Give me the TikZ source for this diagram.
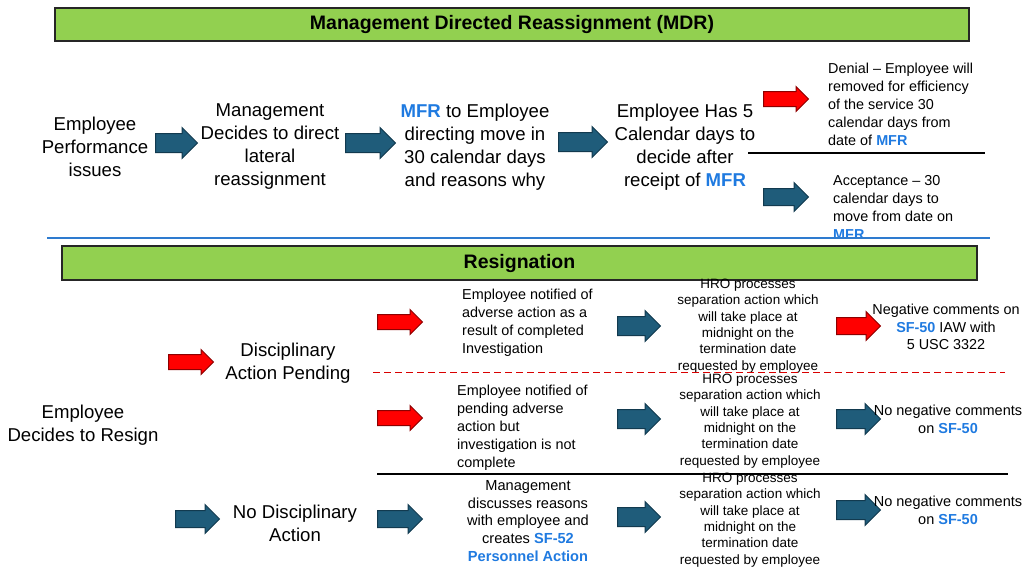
\documentclass[tikz,border=0pt]{standalone}
\usepackage{fontspec}
\setmainfont{Liberation Sans}
\usetikzlibrary{shapes.arrows,positioning}
\definecolor{mdrgreen}{HTML}{92D050}
\definecolor{arrowblue}{HTML}{1F5C7A}
\definecolor{arrowedge}{HTML}{123A4F}
\definecolor{linkblue}{HTML}{1F7AE0}
\definecolor{ruleblue}{HTML}{2E7BCF}
\newcommand{\mfr}{{\color{linkblue}\bfseries MFR}}
\newcommand{\sffifty}{{\color{linkblue}\bfseries SF-50}}
\tikzset{
  banner/.style={draw=black!85, line width=1.5pt, fill=mdrgreen, minimum height=33,
    font=\fontsize{19.5}{22}\selectfont\bfseries},
  bigtext/.style={align=center, inner sep=0, font=\fontsize{18.6}{23}\selectfont},
  smalltext/.style={align=left, inner sep=0, font=\fontsize{14.4}{18}\selectfont},
  hrotext/.style={align=center, inner sep=0, font=\fontsize{13.5}{16.3}\selectfont},
  sidetext/.style={align=center, inner sep=0, font=\fontsize{14.5}{18}\selectfont},
  bluearrow/.style={single arrow, anchor=tail, draw=arrowedge, fill=arrowblue, line width=1pt,
    inner xsep=0, inner ysep=9, minimum height=44, single arrow head extend=6},
  redarrow/.style={bluearrow, draw=red!55!black, fill=red},
  slim/.style={inner ysep=7, single arrow head extend=5}
}
\begin{document}
\begin{tikzpicture}[x=1pt,y=-1pt]
\useasboundingbox (0,0) rectangle (1024,576);

\node[banner, minimum width=914] (mdr) at (512,24.5) {Management Directed Reassignment (MDR)};

\node[bigtext] (perf) at (95,147) {Employee\\Performance\\issues};
\node[bluearrow, minimum height=42] (a1) at (155,143) {};
\node[bigtext] (mgmt) at (270,147) {Management\\Decides to direct\\lateral\\reassignment};
\node[bluearrow, minimum height=50] (a2) at (345,143) {};
\node[bigtext] (memo) at (475,147) {\mfr{} to Employee\\directing move in\\30 calendar days\\and reasons why};
\node[bluearrow, minimum height=49] (a3) at (558,142) {};
\node[bigtext] (decide) at (685,147) {Employee Has 5\\Calendar days to\\decide after\\receipt of \mfr};

\node[redarrow, slim, minimum height=45] (deny) at (763,99) {};
\node[smalltext, anchor=west] (denial) at (828,104) {Denial -- Employee will\\removed for efficiency\\of the service 30\\calendar days from\\date of \mfr};
\draw[line width=1.5pt] (748,153) -- (985,153);
\node[bluearrow, inner ysep=8, minimum height=45] (accept) at (763,197) {};
\node[smalltext, anchor=west] (acceptance) at (833,207) {Acceptance -- 30\\calendar days to\\move from date on\\\mfr};

\draw[ruleblue, line width=2pt] (47,238) -- (990,238);

\node[banner, minimum width=915, minimum height=34] (resign) at (519.5,263) {Resignation};

\node[bigtext] (quit) at (83,425) {Employee\\Decides to Resign};
\node[redarrow, slim, minimum height=45] (r0) at (168,362) {};
\node[bigtext] (pending) at (288,363) {Disciplinary\\Action Pending};
\node[bluearrow, inner ysep=8] (b0) at (175,519) {};
\node[bigtext] (nodisc) at (295,523) {No Disciplinary\\Action};

% disciplinary action, investigation complete
\node[redarrow, slim, minimum height=45] (r1) at (377,322) {};
\node[smalltext, anchor=west] (done) at (462,323) {Employee notified of\\adverse action as a\\result of completed\\Investigation};
\node[bluearrow, minimum height=43] (b1) at (617,326) {};
\node[hrotext] (hro1) at (748,326) {HRO processes\\separation action which\\will take place at\\midnight on the\\termination date\\requested by employee};
\node[redarrow, inner ysep=8] (r2) at (836,326) {};
\node[sidetext, font=\fontsize{14.4}{17.5}\selectfont] (neg) at (946,327) {Negative comments on\\\sffifty{} IAW with\\5 USC 3322};

\draw[red!85!black, dash pattern=on 7pt off 4pt, line width=1pt] (373,372) -- (1005,372);

% disciplinary action, investigation not complete
\node[redarrow, slim, minimum height=45] (r3) at (377,418) {};
\node[smalltext, anchor=west] (open) at (457,428) {Employee notified of\\pending adverse\\action but\\investigation is not\\complete};
\node[bluearrow, minimum height=43] (b2) at (617,419) {};
\node[hrotext] (hro2) at (750,421) {HRO processes\\separation action which\\will take place at\\midnight on the\\termination date\\requested by employee};
\node[bluearrow] (b3) at (836,419) {};
\node[sidetext] (clean1) at (948,419) {No negative comments\\on \sffifty};

\draw[line width=1.5pt] (377,474) -- (1008,474);

% no disciplinary action
\node[bluearrow, inner ysep=8, minimum height=45] (b4) at (377,519) {};
\node[sidetext, font=\fontsize{14.6}{17.8}\selectfont] (talk) at (528,521) {Management\\discusses reasons\\with employee and\\creates {\color{linkblue}\bfseries SF-52}\\{\color{linkblue}\bfseries Personnel Action}};
\node[bluearrow, minimum height=43] (b5) at (617,517) {};
\node[hrotext] (hro3) at (750,520) {HRO processes\\separation action which\\will take place at\\midnight on the\\termination date\\requested by employee};
\node[bluearrow] (b6) at (836,510) {};
\node[sidetext] (clean2) at (948,510) {No negative comments\\on \sffifty};
\end{tikzpicture}
\end{document}
